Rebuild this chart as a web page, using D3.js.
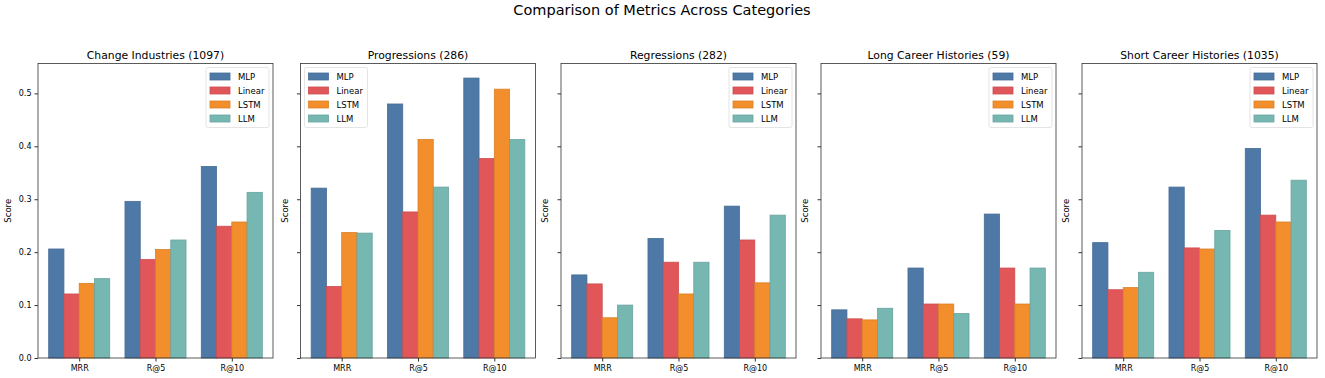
<!DOCTYPE html>
<html>
<head>
<meta charset="utf-8">
<script src="https://cdn.jsdelivr.net/npm/d3@7"></script>
<style>
	body { margin: 0; background: #fff; }
	text { font-family: "DejaVu Sans", sans-serif; fill: #000; }
</style>
</head>
<body>
<svg width="1325" height="378"></svg>
<script>
const metrics = ['MRR', 'R@5', 'R@10'],
	models = ['MLP', 'Linear', 'LSTM', 'LLM'],
	colors = ['#4e79a7', '#e15759', '#f28e2b', '#76b7b2'],
	yTicks = [0.0, 0.1, 0.2, 0.3, 0.4, 0.5];

const panelTitles = ['Change Industries (1097)', 'Progressions (286)', 'Regressions (282)',
	'Long Career Histories (59)', 'Short Career Histories (1035)'];

// scores per panel: one row per model, one column per metric
const changeIndustries = [
	[0.206, 0.296, 0.362],
	[0.121, 0.186, 0.249],
	[0.141, 0.205, 0.257],
	[0.150, 0.223, 0.313]
];
const progressions = [
	[0.321, 0.480, 0.529],
	[0.135, 0.276, 0.377],
	[0.237, 0.413, 0.508],
	[0.236, 0.323, 0.413]
];
const regressions = [
	[0.157, 0.226, 0.287],
	[0.140, 0.181, 0.223],
	[0.076, 0.121, 0.142],
	[0.100, 0.181, 0.270]
];
const longCareer = [
	[0.091, 0.170, 0.272],
	[0.074, 0.102, 0.170],
	[0.072, 0.102, 0.102],
	[0.094, 0.084, 0.170]
];
const shortCareer = [
	[0.218, 0.323, 0.396],
	[0.129, 0.208, 0.270],
	[0.133, 0.206, 0.257],
	[0.162, 0.241, 0.336]
];
const panelData = [changeIndustries, progressions, regressions, longCareer, shortCareer];
const legendLeft = [false, true, false, false, false];

const svg = d3.select('svg'),
	lefts = [38, 300.5, 561, 821, 1082],
	width = 235,
	plotTop = 63.5,
	height = 294.5,
	barW = 0.2;

// title
svg.append('text')
	.attr('x', 662)
	.attr('y', 15)
	.attr('text-anchor', 'middle')
	.style('font-size', '14.5px')
	.text('Comparison of Metrics Across Categories');

const yScale = d3.scaleLinear().domain([0, 0.5565]).range([height, 0]);
const xScale = d3.scaleLinear().domain([-0.54, 2.54]).range([0, width]);

panelData.forEach((rows, p) => {
	const chart = svg.append('g')
		.attr('transform', `translate(${lefts[p]},${plotTop})`);

	rows.forEach((vals, m) => {
		chart.selectAll()
			.data(vals)
			.enter()
			.append('rect')
			.attr('x', (d, i) => xScale(i + (m - 1.5) * barW - barW / 2))
			.attr('y', d => yScale(d))
			.attr('width', xScale(barW) - xScale(0))
			.attr('height', d => height - yScale(d))
			.style('fill', colors[m])
			.style('stroke', d3.color(colors[m]).darker(0.3))
			.style('stroke-width', 0.8);
	});

	let y = chart.append('g')
		.call(d3.axisLeft(yScale).tickValues(yTicks).tickSize(3.5).tickPadding(3)
			.tickFormat(p === 0 ? d3.format('.1f') : ''));
	let x = chart.append('g')
		.attr('transform', `translate(0,${height})`)
		.call(d3.axisBottom(xScale).tickValues([0, 1, 2]).tickSize(3.5).tickPadding(4)
			.tickFormat(i => metrics[i]));
	[x, y].forEach(a => {
		a.select('.domain').remove();
		a.selectAll('text').style('font-size', '8px').style('font-family', '"DejaVu Sans", sans-serif');
		a.selectAll('line').attr('stroke', '#333');
	});

	// frame
	chart.append('rect')
		.attr('width', width)
		.attr('height', height)
		.style('fill', 'none')
		.style('stroke', '#333')
		.style('stroke-width', 0.8);

	chart.append('text')
		.attr('x', width / 2)
		.attr('y', -5)
		.attr('text-anchor', 'middle')
		.style('font-size', '10.8px')
		.text(panelTitles[p]);

	chart.append('text')
		.attr('transform', `translate(${p === 0 ? -27 : -13},${height / 2}) rotate(-90)`)
		.attr('text-anchor', 'middle')
		.style('font-size', '8.5px')
		.text('Score');

	// legend
	const lx = legendLeft[p] ? 4 : width - 67,
		legend = chart.append('g').attr('transform', `translate(${lx},4)`);
	legend.append('rect')
		.attr('width', 63)
		.attr('height', 60)
		.attr('rx', 2)
		.style('fill', '#fff')
		.style('fill-opacity', 0.8)
		.style('stroke', '#ddd')
		.style('stroke-width', 0.8);
	models.forEach((name, m) => {
		legend.append('rect')
			.attr('x', 4)
			.attr('y', 5.5 + m * 14)
			.attr('width', 20)
			.attr('height', 7)
			.style('fill', colors[m])
			.style('stroke', d3.color(colors[m]).darker(0.3))
			.style('stroke-width', 0.8);
		legend.append('text')
			.attr('x', 32)
			.attr('y', 12.5 + m * 14)
			.style('font-size', '8.5px')
			.text(name);
	});
});
</script>
</body>
</html>
